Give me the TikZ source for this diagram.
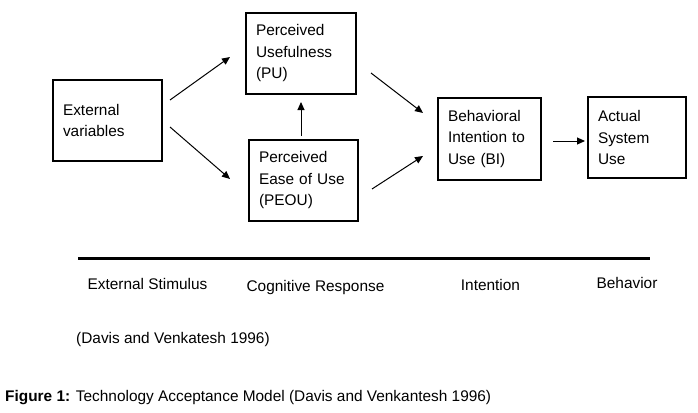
\documentclass[tikz,border=0pt]{standalone}
\usepackage{fontspec}
\setmainfont{Liberation Sans}
\usetikzlibrary{arrows.meta}
\begin{document}
\begin{tikzpicture}[x=1pt,y=-1pt,
        box/.style={draw=black, line width=2pt, align=left, inner xsep=10pt, inner ysep=0pt, font=\fontsize{15.4}{21.5}\selectfont},
        arr/.style={-{Triangle[length=8pt,width=7pt]}, line width=1pt},
        lbl/.style={anchor=base, inner sep=0pt, font=\fontsize{15.4}{18}\selectfont}]
                \useasboundingbox (0,0) rectangle (698,412);
                \node[box, text width=89pt, minimum height=81pt] (ev) at (107.5,120.5) {External\\variables};
                \node[box, text width=90pt, minimum height=81pt] (pu) at (301,53.5) {Perceived\\Usefulness\\(PU)};
                \node[box, text width=89pt, minimum height=81pt] (peou) at (303.5,180.5) {Perceived\\Ease of Use\\(PEOU)};
                \node[box, text width=83pt, minimum height=82pt] (bi) at (489.5,139) {Behavioral\\Intention to\\Use (BI)};
                \node[box, text width=78pt, minimum height=81pt] (asu) at (637,137.5) {Actual\\System\\Use};
                \draw[arr] ([shift={(7,-20.5)}]ev.east) -- ([shift={(-15,3.5)}]pu.west);
                \draw[arr] ([shift={(7,6.5)}]ev.east) -- ([shift={(-18,-1.5)}]peou.west);
                \draw[arr, shorten <=3pt, shorten >=7pt] (pu.south |- peou.north) -- (pu.south);
                \draw[arr] ([shift={(14,19.5)}]pu.east) -- ([shift={(-14,-26)}]bi.west);
                \draw[arr] ([shift={(13,8.5)}]peou.east) -- ([shift={(-14,17)}]bi.west);
                \draw[arr] ([shift={(11,2)}]bi.east) -- ([shift={(-2,3.5)}]asu.west);
                \draw[line width=3pt] (78,258) -- (650,258);
                \foreach \x/\y/\txt [count=\i] in {147.5/289/External Stimulus, 315.5/291/Cognitive Response, 490.5/290/Intention, 627/288/Behavior}
                \node[lbl] (stage\i) at (\x,\y) {\txt};
                \node[lbl, anchor=base west] (src) at (76,343) {(Davis and Venkatesh 1996)};
                \node[lbl, anchor=base west] (capt) at (5,401) {\textbf{Figure 1:} Technology Acceptance Model (Davis and Venkantesh 1996)};
            \end{tikzpicture}
\end{document}
